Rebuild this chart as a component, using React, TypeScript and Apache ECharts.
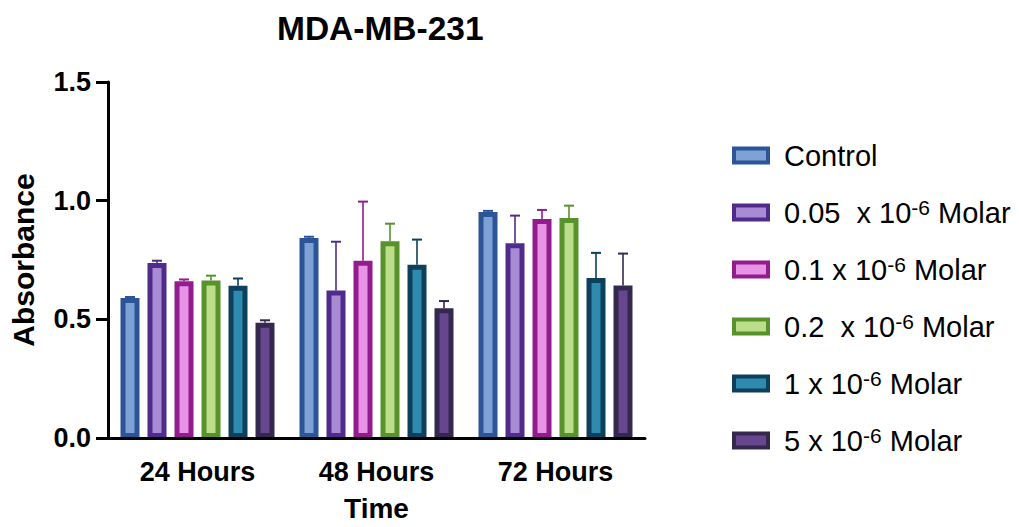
import React, { useEffect, useRef } from "react";
import * as echarts from "echarts";

const categories = ["24 Hours", "48 Hours", "72 Hours"];
const seriesNames = [
  "Control",
  "0.05  x 10^-6 Molar",
  "0.1 x 10^-6 Molar",
  "0.2  x 10^-6 Molar",
  "1 x 10^-6 Molar",
  "5 x 10^-6 Molar",
];
const controlMean = [0.59, 0.843, 0.952];
const m005Mean = [0.737, 0.621, 0.821];
const m01Mean = [0.66, 0.747, 0.923];
const m02Mean = [0.664, 0.829, 0.927];
const m1Mean = [0.642, 0.73, 0.674];
const m5Mean = [0.486, 0.547, 0.643];

const controlErr = [0.004, 0.005, 0.005];
const m005Err = [0.01, 0.206, 0.116];
const m01Err = [0.008, 0.249, 0.038];
const m02Err = [0.02, 0.074, 0.052];
const m1Err = [0.03, 0.106, 0.106];
const m5Err = [0.01, 0.03, 0.134];

const yTicks = [0, 0.5, 1.0, 1.5];

const means = [controlMean, m005Mean, m01Mean, m02Mean, m1Mean, m5Mean];
const errs = [controlErr, m005Err, m01Err, m02Err, m1Err, m5Err];

const borderColors = ["#2B5597", "#4F2C8C", "#921C8E", "#57922B", "#0E3F5C", "#35284F"];
const fillColors = ["#7FA2D6", "#A88BD4", "#E893E6", "#BCDD8A", "#2E8AAE", "#65468F"];

const FONT = "'Liberation Sans', Arial, sans-serif";
const BAR_W = 19;
const BAR_STEP = 27;

export default function App() {
  const ref = useRef<HTMLDivElement>(null);
  useEffect(() => {
    if (!ref.current) return;
    const chart = echarts.init(ref.current, undefined, { renderer: "svg" });
    const barSeries = seriesNames.map((name, k) => ({
      type: "bar",
      name,
      data: means[k],
      barWidth: BAR_W,
      barGap: ((BAR_STEP - BAR_W) / BAR_W) * 100 + "%",
      itemStyle: {
        color: fillColors[k],
        borderColor: borderColors[k],
        borderWidth: 5,
      },
      z: 2,
    }));
    const errSeries = seriesNames.map((name, k) => ({
      type: "custom",
      name: "err-" + k,
      data: means[k].map((m, i) => [i, m, errs[k][i]]),
      z: 3,
      renderItem: (params: any, api: any) => {
        const cat = api.value(0);
        const mean = api.value(1);
        const err = api.value(2);
        const base = api.coord([cat, mean]);
        const top = api.coord([cat, mean + err]);
        const x = base[0] + (k - 2.5) * BAR_STEP;
        return {
          type: "group",
          children: [
            {
              type: "line",
              shape: { x1: x, y1: base[1], x2: x, y2: top[1] },
              style: { stroke: borderColors[k], lineWidth: 1.6 },
            },
            {
              type: "line",
              shape: { x1: x - 5, y1: top[1], x2: x + 5, y2: top[1] },
              style: { stroke: borderColors[k], lineWidth: 2 },
            },
          ],
        };
      },
    }));
    chart.setOption({
      animation: false,
      title: {
        text: "MDA-MB-231",
        left: 272,
        top: 6,
        textStyle: { fontFamily: FONT, fontWeight: "bold", fontSize: 33.5, color: "#000" },
      },
      grid: {
        left: 108,
        right: 374,
        top: 82,
        bottom: 89,
        containLabel: false,
        outerBoundsMode: "none",
      },
      legend: {
        orient: "vertical",
        left: 727,
        top: 136,
        itemWidth: 34,
        itemHeight: 14,
        itemGap: 27,
        icon: "rect",
        data: seriesNames,
        itemStyle: { borderWidth: 4 },
        formatter: (name: string) => {
          const m = name.match(/^(.*10)\^(-6)(.*)$/);
          if (!m) return "{t|" + name + "}";
          return "{t|" + m[1] + "}{sup|" + m[2] + "}{t|" + m[3] + "}";
        },
        textStyle: {
          fontFamily: FONT,
          fontSize: 29,
          color: "#000",
          padding: [0, 0, 0, 11],
          rich: {
            t: { fontFamily: FONT, fontSize: 29, lineHeight: 31, color: "#000" },
            sup: { fontFamily: FONT, fontSize: 21, lineHeight: 16, verticalAlign: "top", color: "#000" },
          },
        },
      },
      xAxis: {
        type: "category",
        data: categories,
        z: 10,
        name: "Time",
        nameLocation: "middle",
        nameGap: 56,
        nameTextStyle: {
          fontFamily: FONT,
          fontWeight: "bold",
          fontSize: 28,
          lineHeight: 28,
          color: "#000",
        },
        axisLine: { lineStyle: { color: "#000", width: 3 } },
        axisTick: { alignWithLabel: true, length: 12, lineStyle: { color: "#000", width: 3 } },
        axisLabel: { fontFamily: FONT, fontWeight: "bold", fontSize: 27, color: "#000", margin: 20 },
      },
      yAxis: {
        type: "value",
        min: yTicks[0],
        max: yTicks[yTicks.length - 1],
        interval: 0.5,
        z: 10,
        name: "Absorbance",
        nameLocation: "middle",
        nameGap: 70,
        nameTextStyle: { fontFamily: FONT, fontWeight: "bold", fontSize: 30, color: "#000" },
        axisLine: { show: true, lineStyle: { color: "#000", width: 3 } },
        axisTick: { show: true, length: 12, lineStyle: { color: "#000", width: 3 } },
        axisLabel: {
          fontFamily: FONT,
          fontWeight: "bold",
          fontSize: 27,
          color: "#000",
          margin: 17,
          formatter: (v: number) => v.toFixed(1),
        },
        splitLine: { show: false },
      },
      series: [...barSeries, ...errSeries],
    });
    return () => chart.dispose();
  }, []);
  return (
    <div
      ref={ref}
      style={{ position: "fixed", left: 0, top: 0, width: 1019, height: 527, background: "#fff" }}
    />
  );
}
